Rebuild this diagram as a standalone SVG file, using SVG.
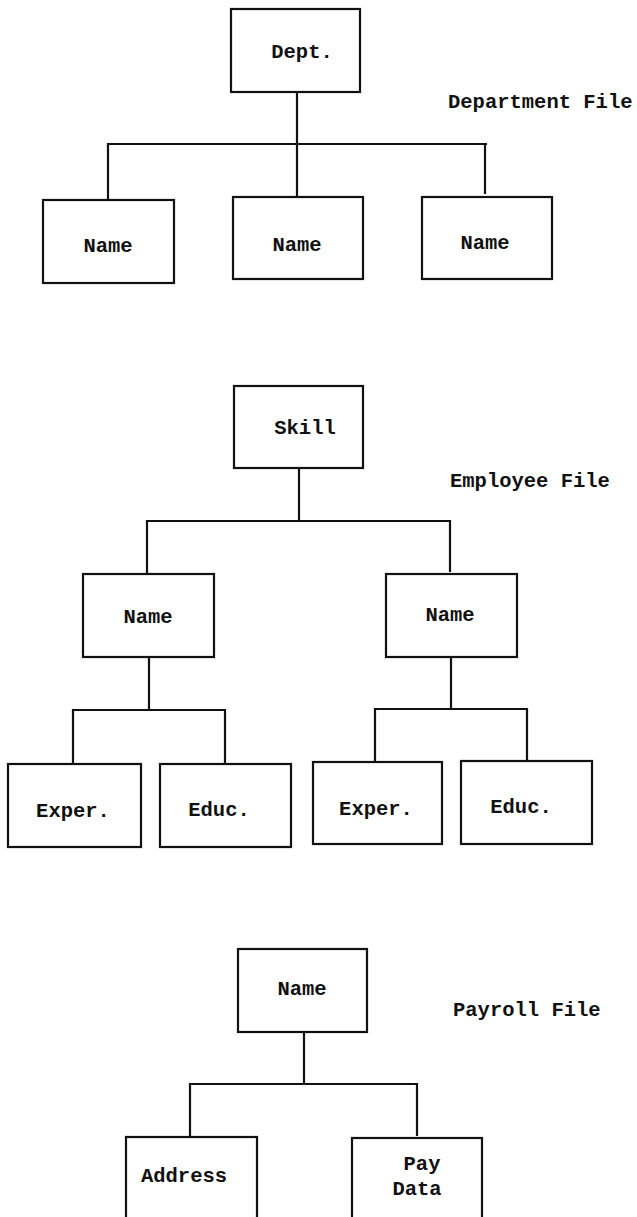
<svg xmlns="http://www.w3.org/2000/svg" width="637" height="1217" viewBox="0 0 637 1217">
  <style>
    .box { fill: #fff; stroke: #111; stroke-width: 2.2; }
    .wire { fill: none; stroke: #111; stroke-width: 2.2; stroke-linecap: square; }
    text { font-family: "Liberation Mono", "Courier New", monospace; font-weight: bold; font-size: 20.5px; fill: #111; }
    .lbl { text-anchor: middle; }
  </style>
  <rect width="637" height="1217" fill="#fff"/>

  <!-- connectors -->
  <g id="connectors">
    <!-- Department file -->
    <path class="wire" d="M297 92 V196 M108 144 H486 M108 144 V200 M485 144 V193"/>
    <!-- Employee file -->
    <path class="wire" d="M299 468 V521 M147 521 H450 M147 521 V573 M450 521 V571"/>
    <path class="wire" d="M149 657 V710 M73 710 H225 M73 710 V764 M225 710 V763"/>
    <path class="wire" d="M451 657 V709 M375 709 H527 M375 709 V765 M527 709 V761"/>
    <!-- Payroll file -->
    <path class="wire" d="M304 1032 V1084 M190 1084 H417 M190 1084 V1137 M417 1084 V1135"/>
  </g>

  <!-- Department file -->
  <g id="dept">
    <rect class="box" x="231" y="9" width="129" height="83"/>
    <text class="lbl" x="302" y="58">Dept.</text>
  </g>
  <g id="dept-name-1">
    <rect class="box" x="43" y="200" width="131" height="83"/>
    <text class="lbl" x="108" y="252">Name</text>
  </g>
  <g id="dept-name-2">
    <rect class="box" x="233" y="197" width="130" height="82"/>
    <text class="lbl" x="297" y="251">Name</text>
  </g>
  <g id="dept-name-3">
    <rect class="box" x="422" y="197" width="130" height="82"/>
    <text class="lbl" x="485" y="249">Name</text>
  </g>
  <text id="label-department" x="448" y="108">Department File</text>

  <!-- Employee file -->
  <g id="skill">
    <rect class="box" x="234" y="386" width="129" height="82"/>
    <text class="lbl" x="305" y="434">Skill</text>
  </g>
  <text id="label-employee" x="450" y="487">Employee File</text>
  <g id="emp-name-1">
    <rect class="box" x="83" y="574" width="131" height="83"/>
    <text class="lbl" x="148" y="623">Name</text>
  </g>
  <g id="emp-name-2">
    <rect class="box" x="386" y="574" width="131" height="83"/>
    <text class="lbl" x="450" y="621">Name</text>
  </g>
  <g id="exper-1">
    <rect class="box" x="8" y="764" width="133" height="83"/>
    <text class="lbl" x="73" y="817">Exper.</text>
  </g>
  <g id="educ-1">
    <rect class="box" x="160" y="764" width="131" height="83"/>
    <text class="lbl" x="219" y="816">Educ.</text>
  </g>
  <g id="exper-2">
    <rect class="box" x="313" y="762" width="129" height="82"/>
    <text class="lbl" x="376" y="815">Exper.</text>
  </g>
  <g id="educ-2">
    <rect class="box" x="461" y="761" width="131" height="83"/>
    <text class="lbl" x="521" y="813">Educ.</text>
  </g>

  <!-- Payroll file -->
  <g id="pay-name">
    <rect class="box" x="238" y="949" width="129" height="83"/>
    <text class="lbl" x="302" y="995">Name</text>
  </g>
  <text id="label-payroll" x="453" y="1016">Payroll File</text>
  <g id="address">
    <rect class="box" x="126" y="1137" width="131" height="100"/>
    <text class="lbl" x="184" y="1182">Address</text>
  </g>
  <g id="pay-data">
    <rect class="box" x="352" y="1138" width="130" height="100"/>
    <text class="lbl" x="422" y="1170">Pay</text>
    <text class="lbl" x="417" y="1195">Data</text>
  </g>
</svg>
